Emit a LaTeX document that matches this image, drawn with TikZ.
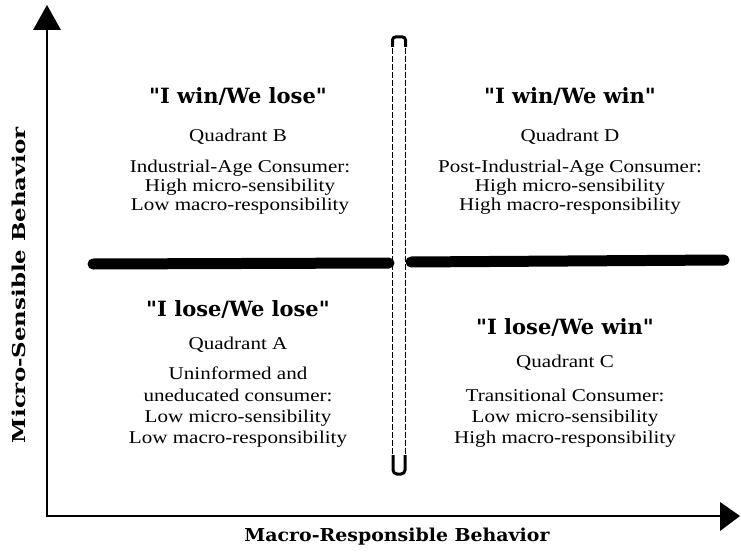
\documentclass[tikz,border=0pt]{standalone}
\usepackage{fontspec}
\usepackage{graphicx}
\setmainfont{Liberation Serif}[FakeStretch=1.17]
\newfontfamily\slab{DejaVu Serif}
\begin{document}
\begin{tikzpicture}[x=1pt,y=-1pt,
  body/.style={anchor=base,inner sep=0pt,font=\fontsize{18}{20}\selectfont},
  ttl/.style={anchor=base,inner sep=0pt,font=\slab\bfseries\fontsize{21}{24}\selectfont},
  axislbl/.style={anchor=base,inner sep=0pt},
  axisline/.style={line width=2.8pt},
  bar/.style={line width=11pt,line cap=round},
  tubeside/.style={line width=1pt,dash pattern=on 6pt off 2pt},
  tubecap/.style={line width=3pt}]
\useasboundingbox (0,0) rectangle (741,559);
% axes
\coordinate (origin) at (47,516);
\coordinate (ytop) at (47,26);
\coordinate (xend) at (722,516);
\draw[axisline] (ytop) -- (origin) -- (xend);
\fill (33,30) -- (61,30) -- (47,5) -- cycle;
\fill (720,502) -- (720,531) -- (740,516) -- cycle;
% horizontal bar
\coordinate (hl1) at (93,264);
\coordinate (hl2) at (389,263);
\coordinate (hr1) at (411,262);
\coordinate (hr2) at (724,260);
\draw[bar] (hl1) -- (hl2);
\draw[bar] (hr1) -- (hr2);
% vertical tube
\coordinate (vt1) at (392.5,40);
\coordinate (vb1) at (392.5,470);
\coordinate (vt2) at (405.5,40);
\coordinate (vb2) at (405.5,470);
\draw[tubeside] (vt1) -- (vb1);
\draw[tubeside] (vt2) -- (vb2);
\draw[tubecap,rounded corners=3pt] (392.5,47) -- (392.5,37) -- (405.5,37) -- (405.5,47);
\draw[tubecap,rounded corners=4pt] (393,455) -- (393,474) -- (405,474) -- (405,455);
% axis labels
\node[axislbl,rotate=90] (ylbl) at (25,285) {\resizebox{316pt}{13.5pt}{\slab\bfseries Micro-Sensible Behavior}};
\node[axislbl] (xlbl) at (397,541) {\resizebox{305pt}{13.5pt}{\slab\bfseries Macro-Responsible Behavior}};
% Quadrant B
\node[ttl] (bt) at (238,104) {"I win/We lose"};
\node[body] (b1) at (238,141) {Quadrant B};
\node[body] (b2) at (240,172) {Industrial-Age Consumer:};
\node[body] (b3) at (240,191) {High micro-sensibility};
\node[body] (b4) at (240,210) {Low macro-responsibility};
% Quadrant D
\node[ttl] (dt) at (570,104) {"I win/We win"};
\node[body] (d1) at (570,141) {Quadrant D};
\node[body] (d2) at (570,172) {Post-Industrial-Age Consumer:};
\node[body] (d3) at (570,191) {High micro-sensibility};
\node[body] (d4) at (570,210) {High macro-responsibility};
% Quadrant A
\node[ttl] (at) at (238,316) {"I lose/We lose"};
\node[body] (a1) at (238,349) {Quadrant A};
\node[body] (a2) at (238,379) {Uninformed and};
\node[body] (a3) at (238,401) {uneducated consumer:};
\node[body] (a4) at (238,422) {Low micro-sensibility};
\node[body] (a5) at (238,443) {Low macro-responsibility};
% Quadrant C
\node[ttl] (ct) at (565,334) {"I lose/We win"};
\node[body] (c1) at (565,367) {Quadrant C};
\node[body] (c2) at (565,401) {Transitional Consumer:};
\node[body] (c3) at (565,422) {Low micro-sensibility};
\node[body] (c4) at (565,443) {High macro-responsibility};
\end{tikzpicture}
\end{document}
